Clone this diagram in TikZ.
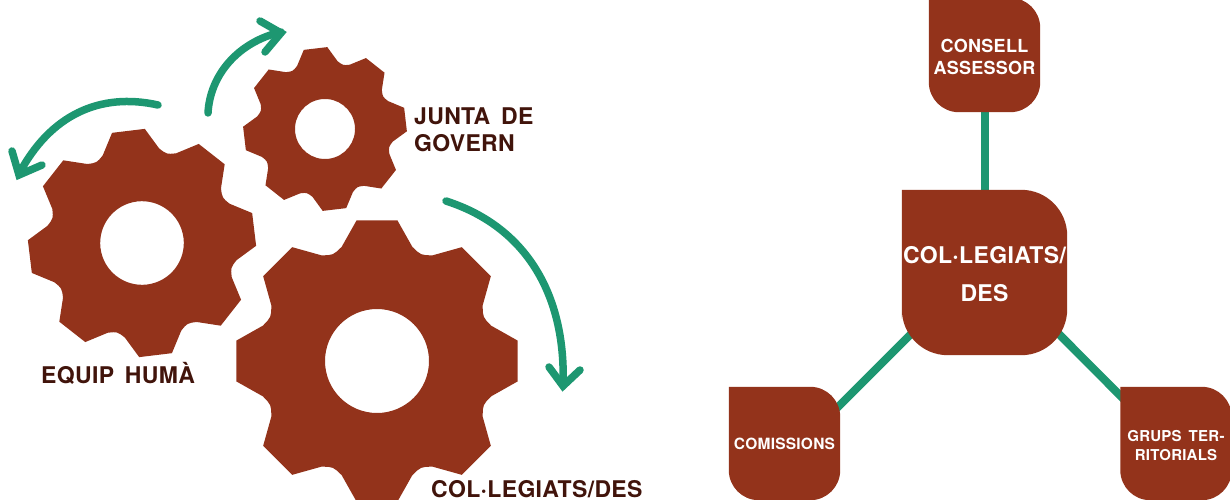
\documentclass[tikz,border=0pt]{standalone}
\usepackage{fontspec}
\setmainfont{TeX Gyre Heros}
\newfontfamily\labelfont{TeX Gyre Heros}[LetterSpace=1.5,WordSpace=1.6]
\definecolor{rust}{HTML}{93331B}
\definecolor{teal}{HTML}{1D9771}
\definecolor{darkbrown}{HTML}{41140B}
\pgfdeclarelayer{bg}
\pgfsetlayers{bg,main}
\newcommand{\gearshape}[4]{%
  \fill[rust,even odd rule,shift={(#1,#2)},rotate=#4,scale=#3]
    (-98.3:142)
    \foreach \k in {0,...,7}{
      -- ({-98.3+45*\k+16.6}:142)
      -- ({-90+45*\k+17.2}:119.5)
      .. controls ({-90+45*\k+22.5}:114.5) .. ({-90+45*\k+27.8}:119.5)
      -- ({-90+45*\k+45-8.3}:142)
    } -- cycle
    (0,0) circle (52);
}
\newcommand{\softbox}[2]{%
  \fill[rust] (#1.north) [rounded corners=#2] -- (#1.north east) -- (#1.south east) -- (#1.south west) -- (#1.west) [sharp corners] -- (#1.north west) -- cycle;
}
\newcommand{\lowered}[2]{\raisebox{-#1}[\height][\depth]{\begin{tabular}{@{}c@{}}#2\end{tabular}}}
\tikzset{
  flow/.style={teal,line width=7.5pt,line cap=round,line join=miter},
  link/.style={teal,line width=8pt},
  gearlabel/.style={text=darkbrown,anchor=west,inner sep=0pt,align=left,font=\labelfont\bfseries\fontsize{23}{27}\selectfont},
  boxtext/.style={text=white,inner sep=0pt,align=center},
}
\begin{document}
\begin{tikzpicture}[x=1pt,y=-1pt]
\useasboundingbox (0,0) rectangle (1230,500);
% gears
\gearshape{142}{243}{0.804}{6.9}
\gearshape{325}{129}{0.577}{6.7}
\gearshape{377}{361}{1}{0}
% arrows
\draw[flow] (208,113) .. controls (210,75) and (238,42) .. (281,32);
\draw[flow] (260,21) -- (281,33) -- (265,52);
\draw[flow] (158,105) .. controls (100,92) and (50,115) .. (19,174);
\draw[flow] (12,151) -- (19,175) -- (42,165);
\draw[flow] (446,201) .. controls (530,228) and (566,300) .. (563,385);
\draw[flow] (549,367) -- (563,386) -- (580,370);
% gear labels
\node[gearlabel] (junta) at (414,130) {JUNTA DE\\GOVERN};
\node[gearlabel] (equip) at (41,373) {EQUIP HUMÀ};
\node[gearlabel] (colgear) at (431,489) {COL·LEGIATS/DES};
% right diagram
\node[boxtext,minimum width=111pt,minimum height=114pt,font=\labelfont\bfseries\fontsize{18}{22}\selectfont] (consell) at (984.5,55) {\lowered{4pt}{CONSELL\\ASSESSOR}};
\node[boxtext,minimum width=165pt,minimum height=165pt,font=\labelfont\bfseries\fontsize{23}{38}\selectfont] (col) at (984.5,272.5) {\lowered{2pt}{COL·LEGIATS/\\DES}};
\node[boxtext,minimum width=111pt,minimum height=113pt,font=\labelfont\bfseries\fontsize{15.5}{19}\selectfont] (comissions) at (784.5,443.5) {\lowered{2pt}{COMISSIONS}};
\node[boxtext,minimum width=111pt,minimum height=113pt,font=\labelfont\bfseries\fontsize{15}{19}\selectfont] (grups) at (1176,443.5) {\lowered{4pt}{GRUPS TER-\\RITORIALS}};
\begin{pgfonlayer}{bg}
\draw[link] (consell.south) -- (col.north);
\draw[link] ([shift={(-10,28)}]comissions.north east) -- ([shift={(18,-30)}]col.south west);
\draw[link] ([shift={(14,23)}]grups.north west) -- ([shift={(-27,-40)}]col.south east);
\softbox{consell}{30pt}
\softbox{col}{46pt}
\softbox{comissions}{30pt}
\softbox{grups}{30pt}
\end{pgfonlayer}
\end{tikzpicture}
\end{document}
